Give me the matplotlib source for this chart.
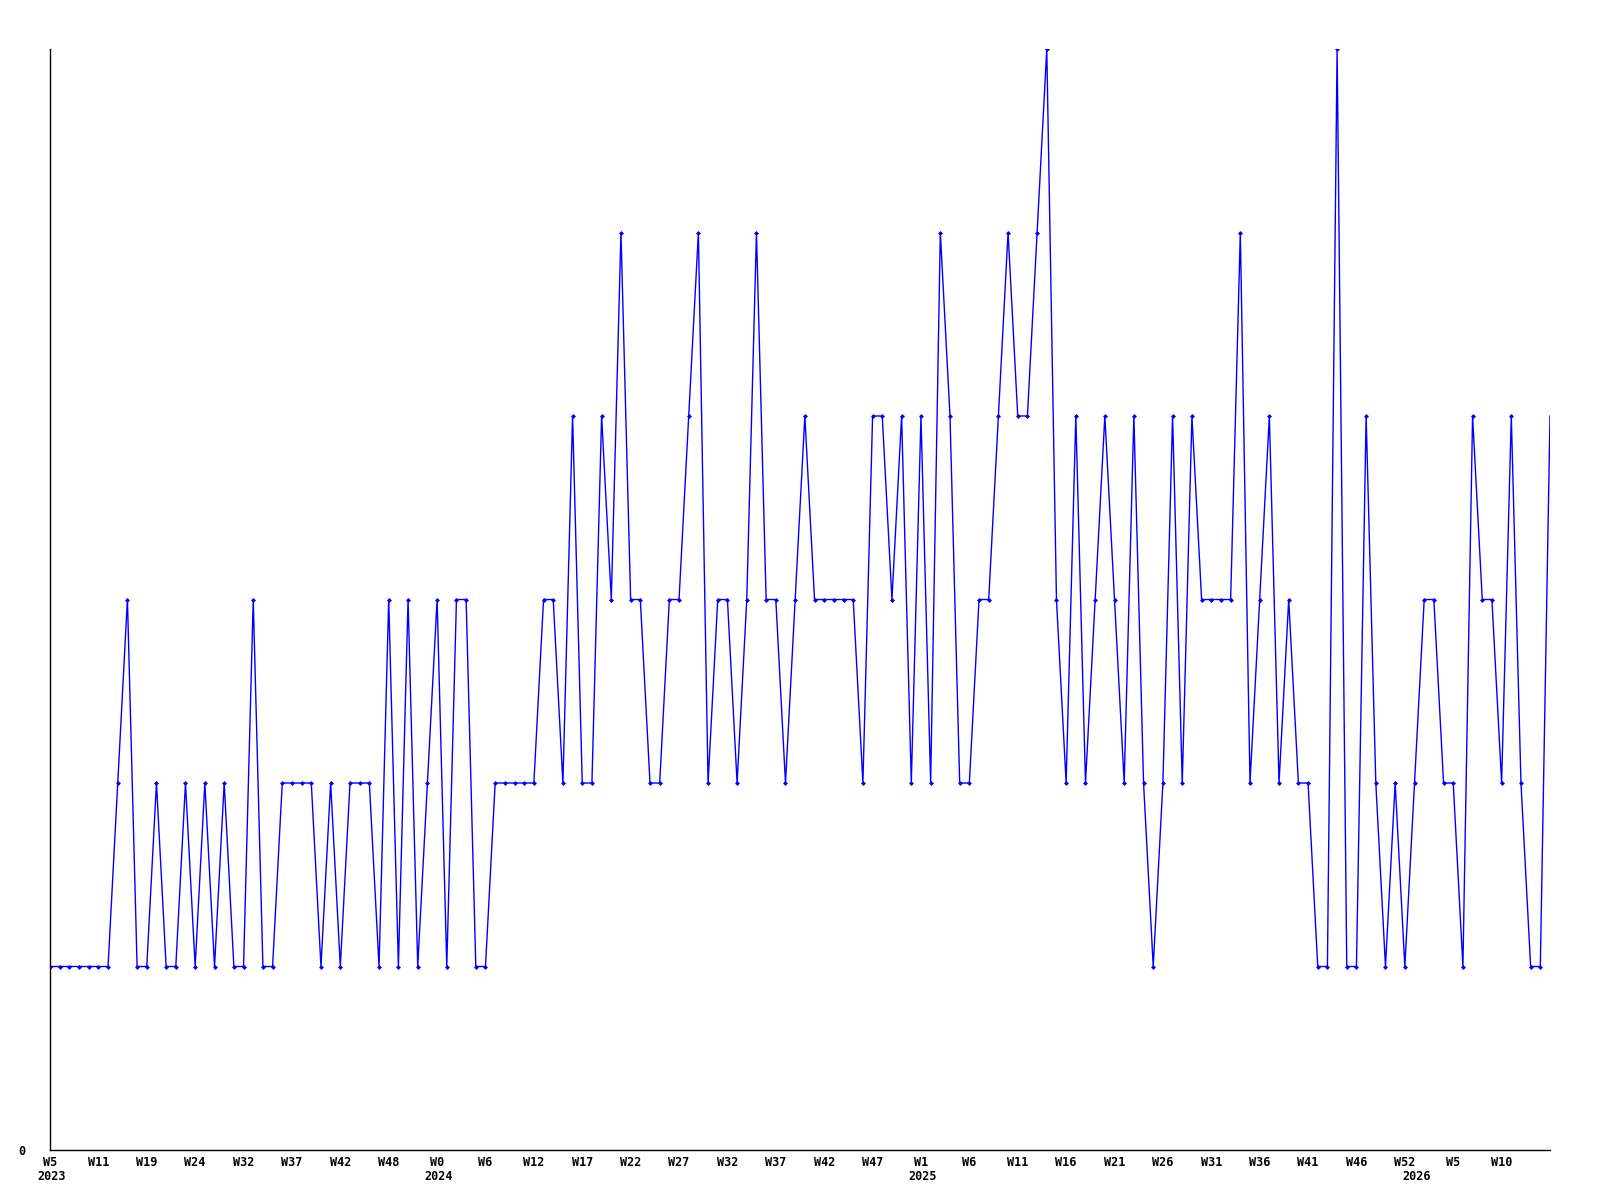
"""Weekly count line chart, W5 2023 to W10 2026."""
import matplotlib
matplotlib.use("Agg")
import matplotlib.pyplot as plt
import numpy as np

# weekly values (one per week)
values = [
    1, 1, 1, 1, 1, 1, 1, 2, 3, 1,
    1, 2, 1, 1, 2, 1, 2, 1, 2, 1,
    1, 3, 1, 1, 2, 2, 2, 2, 1, 2,
    1, 2, 2, 2, 1, 3, 1, 3, 1, 2,
    3, 1, 3, 3, 1, 1, 2, 2, 2, 2,
    2, 3, 3, 2, 4, 2, 2, 4, 3, 5,
    3, 3, 2, 2, 3, 3, 4, 5, 2, 3,
    3, 2, 3, 5, 3, 3, 2, 3, 4, 3,
    3, 3, 3, 3, 2, 4, 4, 3, 4, 2,
    4, 2, 5, 4, 2, 2, 3, 3, 4, 5,
    4, 4, 5, 6, 3, 2, 4, 2, 3, 4,
    3, 2, 4, 2, 1, 2, 4, 2, 4, 3,
    3, 3, 3, 5, 2, 3, 4, 2, 3, 2,
    2, 1, 1, 6, 1, 1, 4, 2, 1, 2,
    1, 2, 3, 3, 2, 2, 1, 4, 3, 3,
    2, 4, 2, 1, 1, 4,
]

# one label every 5 weeks
week_labels = [
    "W5", "W11", "W19", "W24", "W32", "W37", "W42", "W48",
    "W0", "W6", "W12", "W17", "W22", "W27", "W32", "W37", "W42", "W47",
    "W1", "W6", "W11", "W16", "W21", "W26", "W31", "W36", "W41", "W46", "W52",
    "W5", "W10",
]
label_step = 5

# year labels and the week index where each year starts
years = ["2023", "2024", "2025", "2026"]
year_start = [0, 40, 90, 141]

line_color = "#0000ff"
font = dict(family="DejaVu Sans Mono", weight="bold", size=8.5)

x = np.arange(len(values))

fig = plt.figure(figsize=(16, 12), dpi=100)
ax = fig.add_axes([50 / 1600, 50 / 1200, 1500 / 1600, 1101 / 1200])

ax.plot(x, values, color=line_color, lw=1.0)
ax.plot(x[:-1], values[:-1], ls="none", marker="D", ms=2.0,
        mfc=line_color, mec=line_color, mew=0.5)

ax.set_xlim(0, len(values) - 1)
ax.set_ylim(0, max(values))

for side in ["top", "right"]:
    ax.spines[side].set_visible(False)
for side in ["left", "bottom"]:
    ax.spines[side].set_color("black")
    ax.spines[side].set_linewidth(1.0)

ax.set_yticks([0])
ax.set_yticklabels(["0"], fontdict=font)
ax.tick_params(axis="y", length=0, pad=18)

ticks = x[::label_step][:len(week_labels)]
ax.set_xticks(ticks)
ax.set_xticklabels(week_labels, fontdict=font)
ax.tick_params(axis="x", length=0, pad=4)

for yr, idx in zip(years, year_start):
    ax.annotate(yr, xy=(idx, 0), xycoords=("data", "axes fraction"),
                xytext=(2, -27), textcoords="offset pixels",
                ha="center", va="center", **font)

fig.savefig("out.png", dpi=100, facecolor="white")
